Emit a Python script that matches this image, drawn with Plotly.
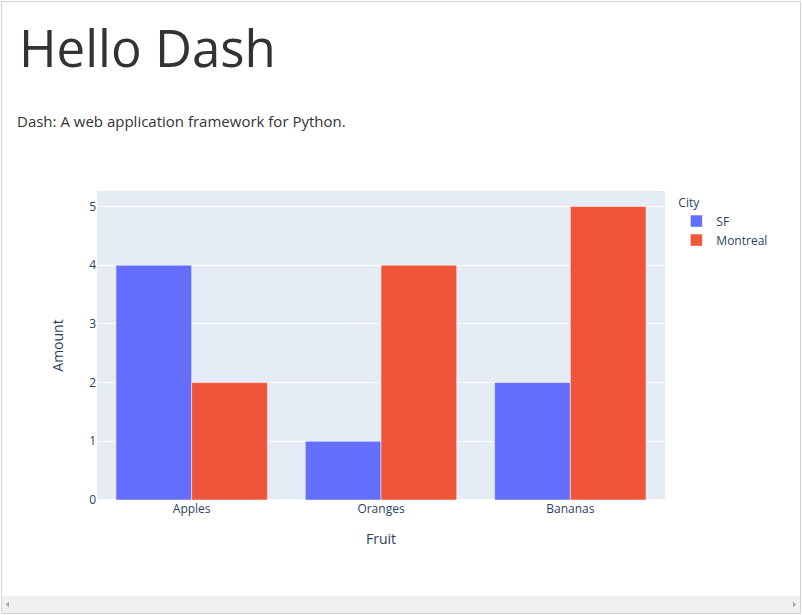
import plotly.graph_objects as go

fruits = ["Apples", "Oranges", "Bananas"]
sf_amount = [4, 1, 2]
montreal_amount = [2, 4, 5]
cities = ["SF", "Montreal"]
colors = ["#636efa", "#EF553B"]

W, H = 802, 615
L, R, T, B = 97, 665, 191, 500  # plot area in pixels


def px_x(p):
    return (p - L) / (R - L)


def px_y(p):
    return (B - p) / (B - T)


fig = go.Figure()
for name, vals, col in zip(cities, [sf_amount, montreal_amount], colors):
    fig.add_trace(go.Bar(
        x=fruits, y=vals, name=name,
        marker=dict(color=col, line=dict(color="white", width=0.5)),
    ))

fig.update_layout(
    width=W, height=H,
    template="plotly",
    barmode="group",
    font=dict(family='"Open Sans", verdana, arial, sans-serif', size=12, color="#2a3f5f"),
    margin=dict(l=L, r=W - R, t=T, b=H - B, autoexpand=False),
    paper_bgcolor="white",
    plot_bgcolor="#E5ECF6",
    legend=dict(title=dict(text="City", font=dict(size=12)), x=1.02, y=1,
                xanchor="left", yanchor="top", tracegroupgap=0),
    xaxis=dict(title=dict(text="Fruit", standoff=18)),
    yaxis=dict(title=dict(text="Amount", standoff=22)),
    showlegend=True,
)

# Page header texts
fig.add_annotation(text="Hello Dash", xref="paper", yref="paper",
                   x=px_x(17), y=px_y(47), xanchor="left", yanchor="middle",
                   showarrow=False,
                   font=dict(family="Open Sans", size=51, color="#333333"))
fig.add_annotation(text="Dash: A web application framework for Python.", xref="paper", yref="paper",
                   x=px_x(15), y=px_y(121), xanchor="left", yanchor="middle",
                   showarrow=False,
                   font=dict(family="Open Sans", size=15, color="#333333"))

# Page frame and scrollbar
fig.add_shape(type="rect", xref="paper", yref="paper",
              x0=px_x(1.5), x1=px_x(800.5), y0=px_y(1.5), y1=px_y(613.5),
              line=dict(color="#d4d4d4", width=1), fillcolor="rgba(0,0,0,0)", layer="above")
fig.add_shape(type="rect", xref="paper", yref="paper",
              x0=px_x(2), x1=px_x(800), y0=px_y(596), y1=px_y(613),
              line=dict(width=0), fillcolor="#f0f0f0", layer="above")
fig.add_shape(type="path", xref="paper", yref="paper",
              path=f"M {px_x(6)} {px_y(604.5)} L {px_x(9)} {px_y(601.5)} L {px_x(9)} {px_y(607.5)} Z",
              line=dict(width=0), fillcolor="#a3a3a3", layer="above")
fig.add_shape(type="path", xref="paper", yref="paper",
              path=f"M {px_x(796)} {px_y(604.5)} L {px_x(793)} {px_y(601.5)} L {px_x(793)} {px_y(607.5)} Z",
              line=dict(width=0), fillcolor="#a3a3a3", layer="above")

fig.write_html("out.html")
